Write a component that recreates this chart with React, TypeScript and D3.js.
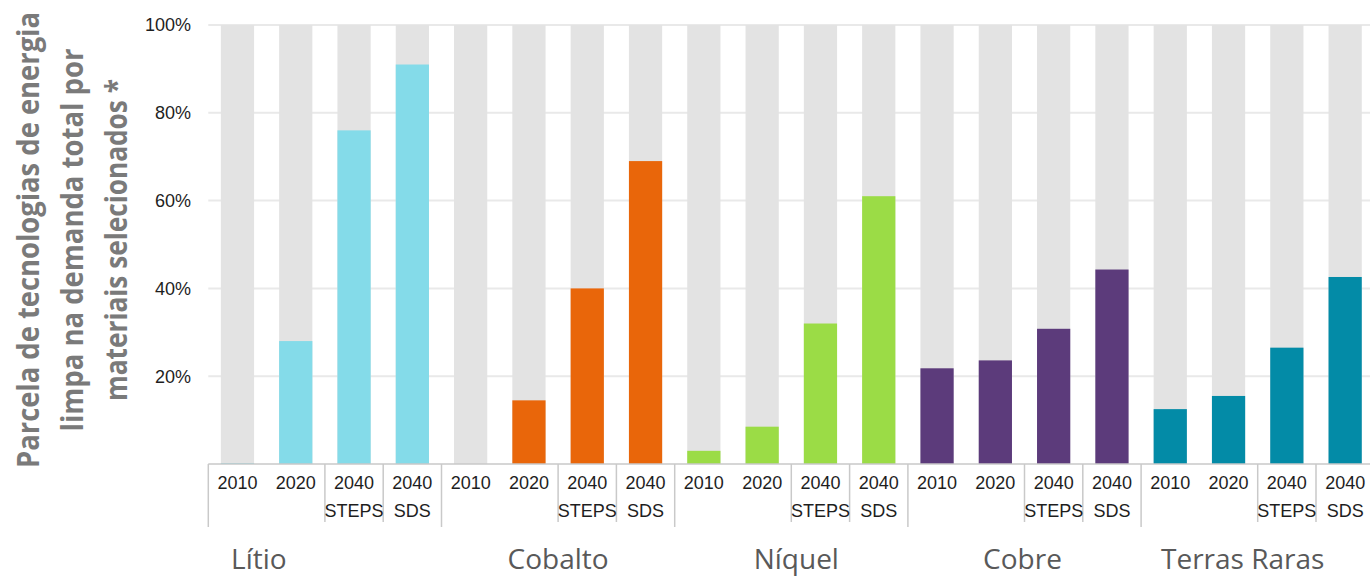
import React from 'react';
import * as d3 from 'd3';

// share of clean energy technologies in total demand, %
const materials = ['Lítio', 'Cobalto', 'Níquel', 'Cobre', 'Terras Raras'];
const scenarios = ['2010', '2020', '2040 STEPS', '2040 SDS'];
const litio = [0.2, 28, 76, 91];
const cobalto = [0, 14.5, 40, 69];
const niquel = [3, 8.5, 32, 61];
const cobre = [21.8, 23.6, 30.8, 44.3];
const terrasRaras = [12.5, 15.5, 26.5, 42.6];
const materialColors = ['#84dbe9', '#e9660a', '#9bdc46', '#5c3b7b', '#038ba7'];
const yTicks = [20, 40, 60, 80, 100];
const titleLines = [
  'Parcela de tecnologias de energia',
  'limpa na demanda total por',
  'materiais selecionados *',
];

const W = 1370;
const H = 577;
const plotLeft = 208.3;
const plotRight = 1374.3;
const plotTop = 25;
const plotBottom = 464;

const App = () => {
  const series = [litio, cobalto, niquel, cobre, terrasRaras];
  const rows = materials.flatMap((m, i) =>
    scenarios.map((s, j) => ({ key: `${m}|${s}`, material: m, mi: i, scenario: s, si: j, value: series[i][j] }))
  );

  const x = d3.scaleBand()
    .domain(rows.map(d => d.key))
    .range([plotLeft, plotRight])
    .paddingInner(0.43)
    .paddingOuter(0.215);
  const step = x.step();
  const y = d3.scaleLinear().domain([0, 100]).range([plotBottom, plotTop]);

  // group label nudges, as placed in the original
  const groupLabelDx = [-66, 0, 5, -2, -15];
  const titleWidths = [456, 383, 322];

  const boundary = (k: number) => plotLeft + k * step;

  return (
    <svg width={W} height={H} style={{ position: 'absolute', left: 0, top: 0, background: '#fff' }}>
      {/* title */}
      <g transform={`translate(0, 240) rotate(-90)`}>
        {titleLines.map((t, i) => (
          <text
            key={t}
            x={0}
            y={39 + i * 44}
            textAnchor="middle"
            fontFamily="'Open Sans', sans-serif"
            fontWeight={700}
            fontSize={30}
            fill="#7a7a7a"
            textLength={titleWidths[i]}
            lengthAdjust="spacingAndGlyphs"
          >
            {t}
          </text>
        ))}
      </g>

      {/* gridlines */}
      {yTicks.map(t => (
        <line key={t} x1={plotLeft} x2={W} y1={y(t)} y2={y(t)} stroke="#e9e9e9" strokeWidth={2} />
      ))}
      {yTicks.map(t => (
        <text
          key={'l' + t}
          x={191}
          y={y(t)}
          dy="0.35em"
          textAnchor="end"
          fontFamily="'Liberation Sans', Arial, sans-serif"
          fontSize={18}
          fill="#1e1e1e"
        >
          {d3.format('.0%')(t / 100)}
        </text>
      ))}

      {/* bars */}
      {rows.map(d => (
        <g key={d.key}>
          <rect x={x(d.key)} y={y(100)} width={x.bandwidth()} height={y(0) - y(100)} fill="#e3e3e3" />
          {d.value > 0 && (
            <rect
              x={x(d.key)}
              y={y(d.value)}
              width={x.bandwidth()}
              height={y(0) - y(d.value)}
              fill={materialColors[d.mi]}
            />
          )}
        </g>
      ))}

      {/* category table */}
      <line x1={plotLeft} x2={W} y1={plotBottom} y2={plotBottom} stroke="#c9c9c9" strokeWidth={1.5} />
      {d3.range(0, rows.length + 1).map(k => {
        const major = k % 4 === 0;
        if (!major && k % 4 === 1) return null;
        return (
          <line
            key={'b' + k}
            x1={boundary(k)}
            x2={boundary(k)}
            y1={plotBottom}
            y2={major ? 527 : 522}
            stroke="#c9c9c9"
            strokeWidth={1.5}
          />
        );
      })}
      {rows.map(d => {
        const cx = (x(d.key) as number) + x.bandwidth() / 2;
        return d.scenario.split(' ').map((part, li) => (
          <text
            key={d.key + li}
            x={cx}
            y={489 + li * 28}
            textAnchor="middle"
            fontFamily="'Liberation Sans', Arial, sans-serif"
            fontSize={18}
            fill="#1e1e1e"
          >
            {part}
          </text>
        ));
      })}
      {materials.map((m, i) => (
        <text
          key={m}
          x={(boundary(i * 4) + boundary(i * 4 + 4)) / 2 + groupLabelDx[i]}
          y={569}
          textAnchor="middle"
          fontFamily="'Open Sans', sans-serif"
          fontSize={28}
          fill="#595959"
        >
          {m}
        </text>
      ))}
    </svg>
  );
};

export default App;
